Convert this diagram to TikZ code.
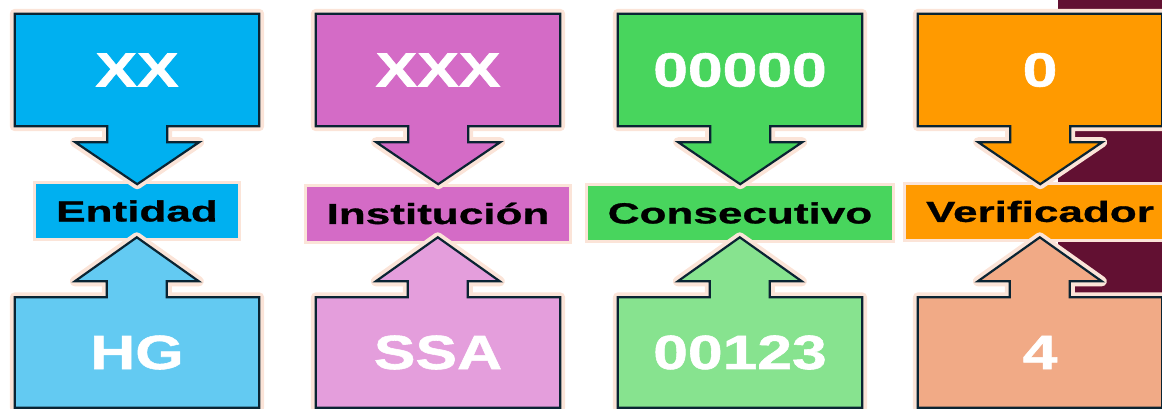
\documentclass[tikz,border=0pt]{standalone}
\usepackage{fontspec}
\newfontfamily\valorfont[FakeStretch=1.30,FakeBold=1.2]{Liberation Sans}
\newfontfamily\etiqfont[FakeStretch=1.52,FakeBold=1.0]{Liberation Sans}
\usetikzlibrary{backgrounds}

\definecolor{celesteA}{HTML}{00B0F0}
\definecolor{celesteB}{HTML}{63CAF2}
\definecolor{rosaA}{HTML}{D46BC6}
\definecolor{rosaB}{HTML}{E49EDC}
\definecolor{verdeA}{HTML}{48D55D}
\definecolor{verdeB}{HTML}{87E38F}
\definecolor{naranjaA}{HTML}{FF9A00}
\definecolor{naranjaB}{HTML}{F1AA86}
\definecolor{linea}{HTML}{0A2433}
\definecolor{brillo}{HTML}{FBE4D8}
\definecolor{vino}{HTML}{621032}

\tikzset{
    valor/.style={minimum width=244pt, minimum height=#1, inner sep=0pt, text=white,
        font=\valorfont\bfseries\fontsize{48}{48}\selectfont},
    etiqueta/.style={fill=#1, minimum height=54pt, inner xsep=20pt, inner ysep=0pt, text=black,
        font=\etiqfont\bfseries\fontsize{29}{29}\selectfont,
        preaction={draw=brillo, line width=6pt}},
    flecha/.style={fill=#1, draw=linea, line width=2.2pt,
        preaction={draw=brillo, line width=10pt, line join=round}}
}

\begin{document}
\begin{tikzpicture}[x=1pt, y=-1pt]
    \useasboundingbox (0,0) rectangle (1162,408);

    % Textos de los valores
    \node[valor=112pt] (v1) at (137,70) {XX};
    \node[valor=110pt] (e1) at (137,352.5) {HG};
    \node[valor=112pt] (v2) at (438,70) {XXX};
    \node[valor=110pt] (e2) at (438,352.5) {SSA};
    \node[valor=112pt] (v3) at (740,70) {00000};
    \node[valor=110pt] (e3) at (740,352.5) {00123};
    \node[valor=112pt] (v4) at (1040,70) {0};
    \node[valor=110pt] (e4) at (1040,352.5) {4};

    \begin{scope}[on background layer]
        % Franja de fondo a la derecha
        \fill[vino] (1058,0) rectangle (1162,298);

        % Etiquetas
        \node[etiqueta=celesteA] (l1) at (137,211) {Entidad};
        \node[etiqueta=rosaA] (l2) at (438,213.5) {Institución};
        \node[etiqueta=verdeA] (l3) at (740,213) {Consecutivo};
        \node[etiqueta=naranjaA] (l4) at (1040,211.5) {Verificador};

        % Columna Entidad
        \draw[flecha=celesteA] (v1.north west) -- (v1.north east) -- (v1.south east) -- ++(-92,0) -- ++(0,16)
            -- ++(32,0) -- ++(-62,42) -- ++(-62,-42) -- ++(32,0) -- ++(0,-16) -- (v1.south west) -- cycle;
        \draw[flecha=celesteB] (e1.south west) -- (e1.north west) -- ++(92,0) -- ++(0,-16)
            -- ++(-32,0) -- ++(62,-44) -- ++(62,44) -- ++(-32,0) -- ++(0,16) -- (e1.north east) -- (e1.south east) -- cycle;

        % Columna Institucion
        \draw[flecha=rosaA] (v2.north west) -- (v2.north east) -- (v2.south east) -- ++(-92,0) -- ++(0,16)
            -- ++(32,0) -- ++(-62,42) -- ++(-62,-42) -- ++(32,0) -- ++(0,-16) -- (v2.south west) -- cycle;
        \draw[flecha=rosaB] (e2.south west) -- (e2.north west) -- ++(92,0) -- ++(0,-16)
            -- ++(-32,0) -- ++(62,-44) -- ++(62,44) -- ++(-32,0) -- ++(0,16) -- (e2.north east) -- (e2.south east) -- cycle;

        % Columna Consecutivo
        \draw[flecha=verdeA] (v3.north west) -- (v3.north east) -- (v3.south east) -- ++(-92,0) -- ++(0,16)
            -- ++(32,0) -- ++(-62,42) -- ++(-62,-42) -- ++(32,0) -- ++(0,-16) -- (v3.south west) -- cycle;
        \draw[flecha=verdeB] (e3.south west) -- (e3.north west) -- ++(92,0) -- ++(0,-16)
            -- ++(-32,0) -- ++(62,-44) -- ++(62,44) -- ++(-32,0) -- ++(0,16) -- (e3.north east) -- (e3.south east) -- cycle;

        % Columna Verificador
        \draw[flecha=naranjaA] (v4.north west) -- (v4.north east) -- (v4.south east) -- ++(-92,0) -- ++(0,16)
            -- ++(32,0) -- ++(-62,42) -- ++(-62,-42) -- ++(32,0) -- ++(0,-16) -- (v4.south west) -- cycle;
        \draw[flecha=naranjaB] (e4.south west) -- (e4.north west) -- ++(92,0) -- ++(0,-16)
            -- ++(-32,0) -- ++(62,-44) -- ++(62,44) -- ++(-32,0) -- ++(0,16) -- (e4.north east) -- (e4.south east) -- cycle;
    \end{scope}

\end{tikzpicture}
\end{document}
